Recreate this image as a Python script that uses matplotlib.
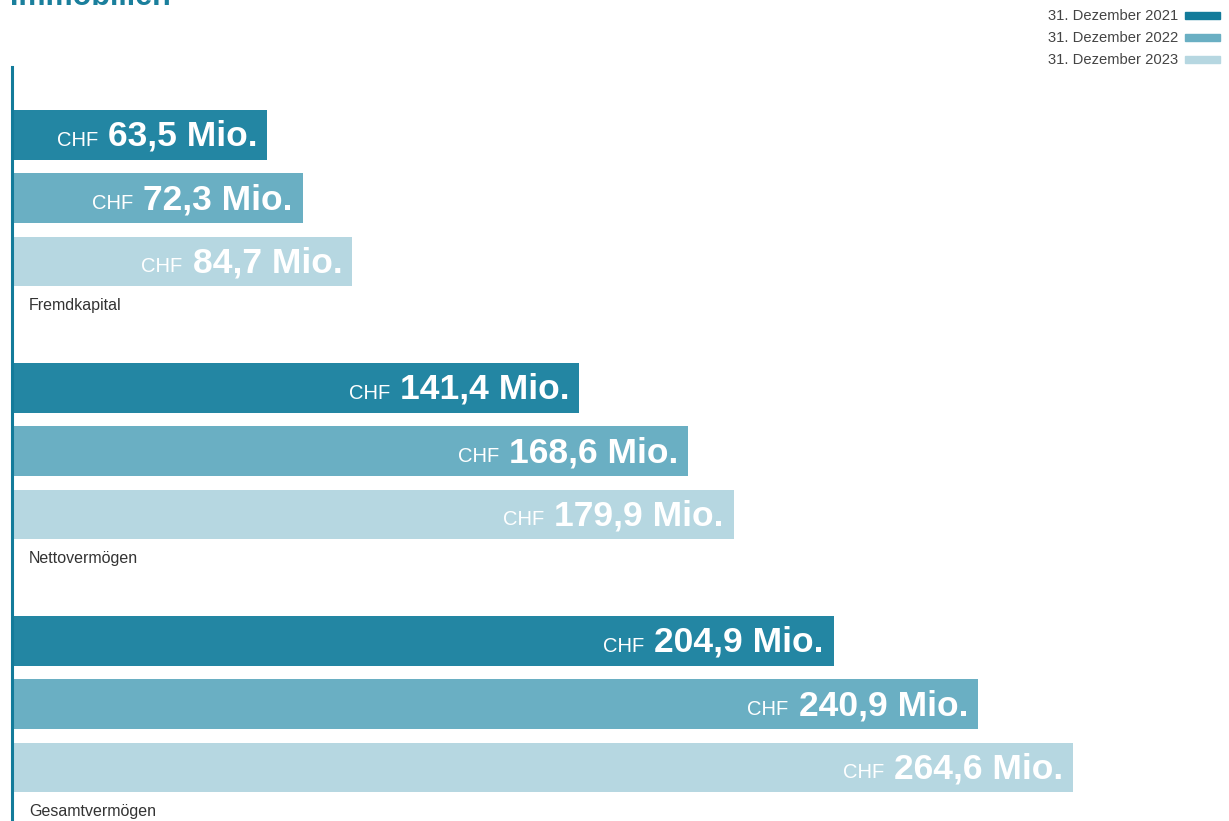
import matplotlib.pyplot as plt
import numpy as np

categories = ["Fremdkapital", "Nettovermögen", "Gesamtvermögen"]
series = ["31. Dezember 2021", "31. Dezember 2022", "31. Dezember 2023"]
values_2021 = [63.5, 141.4, 204.9]
values_2022 = [72.3, 168.6, 240.9]
values_2023 = [84.7, 179.9, 264.6]
colors = ["#2386a3", "#6aafc3", "#b6d7e1"]
legend_colors = ["#137b9a", "#6aafc3", "#b6d7e1"]

plt.rcParams['font.family'] = ['Liberation Sans', 'DejaVu Sans']

fig = plt.figure(figsize=(12.29, 8.21), dpi=100)
# axes: left spine at x=12px, top at 67px, down to the bottom edge
ax = fig.add_axes([12 / 1229, 0, 1 - 12 / 1229, (821 - 67) / 821])
ax.set_xlim(-0.25, 1217 / 4.006 - 0.25)
ax.set_ylim(10.846, -1.075)
for s in ["top", "right", "bottom"]:
    ax.spines[s].set_visible(False)
ax.spines["left"].set_color("#137b9a")
ax.spines["left"].set_linewidth(2.2)
ax.set_xticks([])
ax.set_yticks([])

all_values = [values_2021, values_2022, values_2023]
big_texts = []
for g, cat in enumerate(categories):
    for s in range(3):
        y = 4 * g + s
        v = all_values[s][g]
        ax.barh(y, v, height=0.79, color=colors[s], left=0)
        label = f"{v:.1f}".replace(".", ",") + " Mio."
        t = ax.annotate(label, xy=(v, y), xytext=(-10, -11), textcoords="offset pixels",
                        ha="right", va="baseline", color="white", fontsize=25.5,
                        fontweight="bold")
        big_texts.append((t, y))
    ax.text(4, 4 * g + 2.69, cat, fontsize=11.5, color="#333333", va="center", ha="left")

# "CHF" prefix sits left of each bold value, on the same baseline
fig.canvas.draw()
r = fig.canvas.get_renderer()
for t, y in big_texts:
    bb = t.get_window_extent(r)
    ybase = ax.transData.transform((0, y))[1] - 11
    ax.annotate("CHF", xy=(bb.x0 - 10, ybase), xycoords="figure pixels",
                ha="right", va="baseline", color="white", fontsize=14.5)

# legend
for i, (lab, c) in enumerate(zip(series, legend_colors)):
    ypix = 16 + 22 * i
    fig.text(1178 / 1229, 1 - ypix / 821, lab, ha="right", va="center",
             fontsize=10.6, color="#444444")
    fig.patches.append(plt.Rectangle((1185 / 1229, 1 - (ypix + 3.5) / 821), 35 / 1229, 7 / 821,
                                     transform=fig.transFigure, color=c, figure=fig))

# title, cut off by the top edge
fig.text(10 / 1229, 1 - 5 / 821, "Immobilien", ha="left", va="baseline",
         fontsize=22, fontweight="bold", color="#1a7f9c")

fig.savefig("out.png", dpi=100)
